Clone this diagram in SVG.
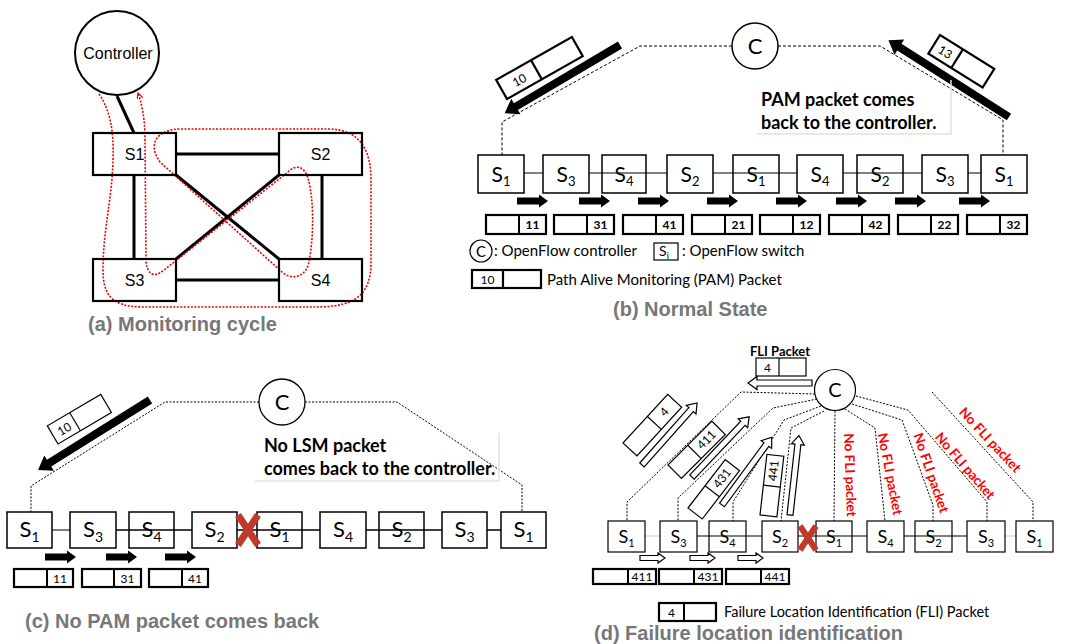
<svg xmlns="http://www.w3.org/2000/svg" width="1066" height="644" viewBox="0 0 1066 644">
<defs>
<style>
.bx{fill:#fff;stroke:#000;stroke-width:1.5}
.bxn{fill:none;stroke:#000;stroke-width:1.5}
.thk{fill:#fff;stroke:#000;stroke-width:2.2}
.thn{fill:#fff;stroke:#000;stroke-width:1.2}
.ln{stroke:#000;fill:none}
.ar{font-family:'Liberation Sans',Arial,sans-serif;font-size:16px;fill:#000}
.cal{font-family:Lato,'Open Sans',sans-serif;fill:#000}
.b{font-weight:bold}
.cap{font-family:'Liberation Sans',Arial,sans-serif;font-size:20px;font-weight:bold;fill:#777}
.dash{fill:none;stroke:#000;stroke-width:1;stroke-dasharray:3,2}
.dot{fill:none;stroke:#000;stroke-width:1;stroke-dasharray:2,1.5}
.blk{fill:#000}
.hol{fill:#fff;stroke:#000;stroke-width:1.2}
.red{fill:#f00;font-family:Lato,'Open Sans',sans-serif;font-weight:bold;font-size:13.5px}
.xm{stroke:#c0392b;stroke-width:7}
.sw{font-family:Lato,'Open Sans',sans-serif;fill:#000;text-anchor:middle}
.pk{font-family:Lato,'Open Sans',sans-serif;fill:#000;text-anchor:middle;font-size:12px}
.faint{fill:none;stroke:#e4e4dc;stroke-width:1.5}
</style>
<marker id="ra" markerWidth="8" markerHeight="8" refX="6" refY="3" orient="auto" markerUnits="userSpaceOnUse">
<path d="M0,0 L6,3 L0,6" fill="none" stroke="#e00" stroke-width="1.2"/>
</marker>
</defs>
<rect width="1066" height="644" fill="#fff"/>

<!-- ===== Panel (a) ===== -->
<g id="a-connectors">
<g class="ln" stroke-width="3">
<line x1="117" y1="96" x2="134" y2="133"/>
<line x1="176" y1="154" x2="279" y2="154"/>
<line x1="176" y1="280" x2="279" y2="280"/>
<line x1="134" y1="175" x2="134" y2="259"/>
<line x1="322" y1="175" x2="322" y2="259"/>
<line x1="176" y1="175" x2="279" y2="259"/>
<line x1="279" y1="175" x2="176" y2="259"/>
</g>
<path d="M99,94 C110,110 114,130 113,160 C112,200 103,230 103,270 C103,295 112,306 140,307 L320,307 C355,306 371,295 371,262 L371,180 C371,150 360,130 330,129 L180,129 C155,130 148,145 160,162 L282,272 C292,281 306,277 309,262 C314,235 314,200 308,178 C304,166 296,164 288,172 L164,270 C152,280 146,272 146,258 L145,140 C145,115 141,102 138,93" fill="none" stroke="#e00" stroke-width="1.6" stroke-dasharray="2,1.5" marker-end="url(#ra)"/>
</g>
<g id="a-controller">
<circle cx="117" cy="53" r="42" fill="#fff" stroke="#000" stroke-width="2"/>
<text x="118" y="59" class="ar" text-anchor="middle">Controller</text>
</g>
<g id="a-s1"><rect x="93" y="133" width="83" height="42" class="thk" style="fill:none"/><text x="134.5" y="160" class="ar" text-anchor="middle">S1</text></g>
<g id="a-s2"><rect x="279" y="133" width="83" height="42" class="thk" style="fill:none"/><text x="320.5" y="160" class="ar" text-anchor="middle">S2</text></g>
<g id="a-s3"><rect x="93" y="259" width="83" height="42" class="thk" style="fill:none"/><text x="134.5" y="286" class="ar" text-anchor="middle">S3</text></g>
<g id="a-s4"><rect x="279" y="259" width="83" height="42" class="thk" style="fill:none"/><text x="320.5" y="286" class="ar" text-anchor="middle">S4</text></g>
<text x="88" y="331" class="cap">(a) Monitoring cycle</text>

<!-- ===== Panel (b) ===== -->
<g id="b-connectors">
<path class="dash" d="M732,46 H640 L502,122 V155"/>
<path class="dash" d="M778,46 H880 L1003,120 V155"/>
<line x1="524" y1="173" x2="981" y2="173" stroke="#000" stroke-width="1"/>
<path class="blk" transform="translate(620,45) rotate(149.4)" d="M0,-4 H121 V-9 L134,0 L121,9 V4 H0 Z"/>
<path class="blk" transform="translate(1009,117) rotate(212.5)" d="M0,-4 H130 V-9 L143,0 L130,9 V4 H0 Z"/>
<g class="blk">
<path transform="translate(517,201)" d="M0,-3.5 H22 V-6.5 L31,0 L22,6.5 V3.5 H0 Z"/>
<path transform="translate(579,201)" d="M0,-3.5 H22 V-6.5 L31,0 L22,6.5 V3.5 H0 Z"/>
<path transform="translate(638,201)" d="M0,-3.5 H22 V-6.5 L31,0 L22,6.5 V3.5 H0 Z"/>
<path transform="translate(707,201)" d="M0,-3.5 H22 V-6.5 L31,0 L22,6.5 V3.5 H0 Z"/>
<path transform="translate(776,201)" d="M0,-3.5 H22 V-6.5 L31,0 L22,6.5 V3.5 H0 Z"/>
<path transform="translate(836,201)" d="M0,-3.5 H22 V-6.5 L31,0 L22,6.5 V3.5 H0 Z"/>
<path transform="translate(895,201)" d="M0,-3.5 H22 V-6.5 L31,0 L22,6.5 V3.5 H0 Z"/>
<path transform="translate(959,201)" d="M0,-3.5 H22 V-6.5 L31,0 L22,6.5 V3.5 H0 Z"/>
</g>
</g>
<g id="b-controller"><circle cx="755" cy="46" r="23" fill="#fff" stroke="#000" stroke-width="1.5"/><text x="755" y="54" class="sw" font-size="22">C</text></g>
<g id="b-pkt10" transform="translate(507,99) rotate(-29.5)"><rect x="0" y="-22" width="87" height="22" class="thk"/><line x1="40" y1="-22" x2="40" y2="0" class="ln" stroke-width="2.2"/><text x="20" y="-6" class="pk" font-size="14">10</text></g>
<g id="b-pkt13" transform="translate(940,35) rotate(32)"><rect x="0" y="0" width="64" height="22" class="thk"/><line x1="27" y1="0" x2="27" y2="22" class="ln" stroke-width="2.2"/><text x="13.5" y="16" class="pk" font-size="14">13</text></g>
<g id="b-note">
<polyline class="faint" points="757,134 951,134 951,80"/>
<text x="761" y="106" class="cal b" font-size="18">PAM packet comes</text>
<text x="761" y="129" class="cal b" font-size="18">back to the controller.</text>
</g>
<g id="b-switches">
<g id="b-sw1"><rect x="478" y="155" width="46" height="38" class="bx"/><text x="501" y="182" class="sw" font-size="21">S<tspan font-size="13" dy="4">1</tspan></text></g>
<g id="b-sw2"><rect x="543" y="155" width="46" height="38" class="bx"/><text x="566" y="182" class="sw" font-size="21">S<tspan font-size="13" dy="4">3</tspan></text></g>
<g id="b-sw3"><rect x="602" y="155" width="44" height="38" class="bxn"/><text x="624" y="182" class="sw" font-size="21">S<tspan font-size="13" dy="4">4</tspan></text></g>
<g id="b-sw4"><rect x="667" y="155" width="46" height="38" class="bx"/><text x="690" y="182" class="sw" font-size="21">S<tspan font-size="13" dy="4">2</tspan></text></g>
<g id="b-sw5"><rect x="733" y="155" width="46" height="38" class="bxn"/><text x="756" y="182" class="sw" font-size="21">S<tspan font-size="13" dy="4">1</tspan></text></g>
<g id="b-sw6"><rect x="797" y="155" width="46" height="38" class="bx"/><text x="820" y="182" class="sw" font-size="21">S<tspan font-size="13" dy="4">4</tspan></text></g>
<g id="b-sw7"><rect x="857" y="155" width="46" height="38" class="bxn"/><text x="880" y="182" class="sw" font-size="21">S<tspan font-size="13" dy="4">2</tspan></text></g>
<g id="b-sw8"><rect x="922" y="155" width="46" height="38" class="bx"/><text x="945" y="182" class="sw" font-size="21">S<tspan font-size="13" dy="4">3</tspan></text></g>
<g id="b-sw9"><rect x="981" y="155" width="46" height="38" class="bx"/><text x="1004" y="182" class="sw" font-size="21">S<tspan font-size="13" dy="4">1</tspan></text></g>
</g>
<g id="b-packets" class="b">
<g><rect x="486" y="215" width="60" height="19" class="thk"/><line x1="519" y1="215" x2="519" y2="234" class="ln" stroke-width="2"/><text x="532.5" y="229" class="pk">11</text></g>
<g><rect x="554" y="215" width="60" height="19" class="thk"/><line x1="587" y1="215" x2="587" y2="234" class="ln" stroke-width="2"/><text x="600.5" y="229" class="pk">31</text></g>
<g><rect x="623" y="215" width="60" height="19" class="thk"/><line x1="656" y1="215" x2="656" y2="234" class="ln" stroke-width="2"/><text x="669.5" y="229" class="pk">41</text></g>
<g><rect x="692" y="215" width="60" height="19" class="thk"/><line x1="725" y1="215" x2="725" y2="234" class="ln" stroke-width="2"/><text x="738.5" y="229" class="pk">21</text></g>
<g><rect x="760" y="215" width="60" height="19" class="thk"/><line x1="793" y1="215" x2="793" y2="234" class="ln" stroke-width="2"/><text x="806.5" y="229" class="pk">12</text></g>
<g><rect x="829" y="215" width="60" height="19" class="thk"/><line x1="862" y1="215" x2="862" y2="234" class="ln" stroke-width="2"/><text x="875.5" y="229" class="pk">42</text></g>
<g><rect x="898" y="215" width="60" height="19" class="thk"/><line x1="931" y1="215" x2="931" y2="234" class="ln" stroke-width="2"/><text x="944.5" y="229" class="pk">22</text></g>
<g><rect x="967" y="215" width="60" height="19" class="thk"/><line x1="1000" y1="215" x2="1000" y2="234" class="ln" stroke-width="2"/><text x="1013.5" y="229" class="pk">32</text></g>
</g>
<g id="b-legend">
<circle cx="481" cy="251" r="11" fill="#fff" stroke="#000" stroke-width="1.2"/><text x="481" y="256.5" class="sw" font-size="15">C</text>
<text x="494" y="256" class="cal" font-size="15">: OpenFlow controller</text>
<rect x="654" y="243" width="24" height="17" fill="#fff" stroke="#000" stroke-width="1.2"/><text x="664" y="256" class="sw" font-size="14">S<tspan font-size="9" dy="3">i</tspan></text>
<text x="682" y="256" class="cal" font-size="15">: OpenFlow switch</text>
<rect x="472" y="270" width="69" height="18" class="thk"/><line x1="503" y1="270" x2="503" y2="288" class="ln" stroke-width="2.2"/><text x="487.5" y="284" class="pk" font-size="13">10</text>
<text x="547" y="285" class="cal" font-size="15">Path Alive Monitoring (PAM) Packet</text>
</g>
<text x="613" y="316" class="cap">(b) Normal State</text>

<!-- ===== Panel (c) ===== -->
<g id="c-connectors">
<path class="dot" d="M259,402 H165 L31,486 V512"/>
<path class="dot" d="M305,402 H397 L522,485 V512"/>
<line x1="52" y1="530" x2="70" y2="530" stroke="#000" stroke-width="1"/>
<line x1="116" y1="530" x2="501" y2="530" stroke="#000" stroke-width="1.6"/>
<path class="blk" transform="translate(150,400) rotate(148)" d="M0,-4 H119 V-9 L132,0 L119,9 V4 H0 Z"/>
<g class="blk">
<path transform="translate(45,557)" d="M0,-3.5 H22 V-6.5 L31,0 L22,6.5 V3.5 H0 Z"/>
<path transform="translate(106,557)" d="M0,-3.5 H22 V-6.5 L31,0 L22,6.5 V3.5 H0 Z"/>
<path transform="translate(165,557)" d="M0,-3.5 H22 V-6.5 L31,0 L22,6.5 V3.5 H0 Z"/>
</g>
</g>
<g id="c-controller"><circle cx="282" cy="402" r="23" fill="#fff" stroke="#000" stroke-width="1.3"/><text x="282" y="410" class="sw" font-size="22">C</text></g>
<g id="c-pkt10" transform="translate(58,444) rotate(-30.5)"><rect x="0" y="-21" width="62" height="21" class="thn"/><line x1="26" y1="-21" x2="26" y2="0" class="ln" stroke-width="1.2"/><text x="13" y="-5.5" class="pk" font-size="13">10</text></g>
<g id="c-note">
<polyline class="faint" points="255,481 499,481 499,433"/>
<text x="264" y="452" class="cal b" font-size="18">No LSM packet</text>
<text x="264" y="475" class="cal b" font-size="18">comes back to the controller.</text>
</g>
<g id="c-switches">
<g id="c-sw1"><rect x="7" y="512" width="45" height="36" class="bx"/><text x="29.5" y="537" class="sw" font-size="22">S<tspan font-size="14" dy="5">1</tspan></text></g>
<g id="c-sw2"><rect x="70" y="512" width="46" height="36" class="bx"/><text x="93" y="537" class="sw" font-size="22">S<tspan font-size="14" dy="5">3</tspan></text></g>
<g id="c-sw3"><rect x="129" y="512" width="45" height="36" class="bxn"/><text x="151.5" y="537" class="sw" font-size="22">S<tspan font-size="14" dy="5">4</tspan></text></g>
<g id="c-sw4"><rect x="192" y="512" width="45" height="36" class="bx"/><text x="214.5" y="537" class="sw" font-size="22">S<tspan font-size="14" dy="5">2</tspan></text></g>
<g id="c-sw5"><rect x="257" y="512" width="45" height="36" class="bxn"/><text x="279.5" y="537" class="sw" font-size="22">S<tspan font-size="14" dy="5">1</tspan></text></g>
<g id="c-sw6"><rect x="320" y="512" width="46" height="36" class="bx"/><text x="343" y="537" class="sw" font-size="22">S<tspan font-size="14" dy="5">4</tspan></text></g>
<g id="c-sw7"><rect x="379" y="512" width="45" height="36" class="bxn"/><text x="401.5" y="537" class="sw" font-size="22">S<tspan font-size="14" dy="5">2</tspan></text></g>
<g id="c-sw8"><rect x="442" y="512" width="45" height="36" class="bx"/><text x="464.5" y="537" class="sw" font-size="22">S<tspan font-size="14" dy="5">3</tspan></text></g>
<g id="c-sw9"><rect x="501" y="512" width="45" height="36" class="bx"/><text x="523.5" y="537" class="sw" font-size="22">S<tspan font-size="14" dy="5">1</tspan></text></g>
</g>
<g id="c-fail"><line x1="238" y1="515" x2="258" y2="545" class="xm"/><line x1="258" y1="515" x2="238" y2="545" class="xm"/></g>
<g id="c-packets">
<g><rect x="14" y="569" width="59" height="18" class="thk"/><line x1="47" y1="569" x2="47" y2="587" class="ln" stroke-width="2"/><text x="60" y="582.5" class="pk">11</text></g>
<g><rect x="82" y="569" width="59" height="18" class="thk"/><line x1="114" y1="569" x2="114" y2="587" class="ln" stroke-width="2"/><text x="127.5" y="582.5" class="pk">31</text></g>
<g><rect x="149" y="569" width="59" height="18" class="thk"/><line x1="182" y1="569" x2="182" y2="587" class="ln" stroke-width="2"/><text x="195" y="582.5" class="pk">41</text></g>
</g>
<text x="25" y="628" class="cap">(c) No PAM packet comes back</text>

<!-- ===== Panel (d) ===== -->
<g id="d-connectors">
<path class="dot" d="M815,394 L741,392 L627,502 V521"/>
<path class="dot" d="M817,399 L773,408 L678,498 V521"/>
<path class="dot" d="M821,406 L784,420 L733,502 V521"/>
<path class="dot" d="M824,411 L791,428 L781,521"/>
<path class="dot" d="M835,411 L834,521"/>
<path class="dot" d="M845,409 L875,428 L885,521"/>
<path class="dot" d="M852,404 L902,420 L933,505 V521"/>
<path class="dot" d="M856,396 L908,410 L987,502 V521"/>
<path class="dot" d="M932,392 L1033,502 V521"/>
<line x1="645" y1="536" x2="660" y2="536" stroke="#ccc" stroke-width="1"/>
<line x1="697" y1="536" x2="967" y2="536" stroke="#000" stroke-width="1.2"/>
<line x1="1005" y1="536" x2="1016" y2="536" stroke="#ccc" stroke-width="1"/>
<path class="hol" transform="translate(812,383) rotate(180)" d="M0,-3 H55 V-6.5 L64,0 L55,6.5 V3 H0 Z"/>
<path class="hol" transform="translate(642,465) rotate(-48.4)" d="M0,-3 H74 V-6.5 L83,0 L74,6.5 V3 H0 Z"/>
<path class="hol" transform="translate(692,477) rotate(-46.5)" d="M0,-3 H74 V-6.5 L83,0 L74,6.5 V3 H0 Z"/>
<path class="hol" transform="translate(722,505) rotate(-53.7)" d="M0,-3 H75 V-6.5 L84,0 L75,6.5 V3 H0 Z"/>
<path class="hol" transform="translate(790,515) rotate(-83.6)" d="M0,-3 H71 V-6.5 L80,0 L71,6.5 V3 H0 Z"/>
<path class="hol" transform="translate(640,558)" d="M0,-2.5 H18 V-5 L25,0 L18,5 V2.5 H0 Z"/>
<path class="hol" transform="translate(690,558)" d="M0,-2.5 H18 V-5 L25,0 L18,5 V2.5 H0 Z"/>
<path class="hol" transform="translate(738,558)" d="M0,-2.5 H18 V-5 L25,0 L18,5 V2.5 H0 Z"/>
</g>
<g id="d-controller"><circle cx="835" cy="390" r="20.5" fill="#fff" stroke="#000" stroke-width="1.2"/><text x="835" y="397" class="sw" font-size="20">C</text></g>
<g id="d-fli">
<text x="780" y="356" class="cal b" font-size="13" text-anchor="middle">FLI Packet</text>
<rect x="756" y="358" width="50" height="18" class="thn"/><line x1="779" y1="358" x2="779" y2="376" class="ln" stroke-width="1.2"/><text x="767.5" y="371.5" class="pk" font-size="11">4</text>
</g>
<g id="d-pktA" transform="translate(623,443) rotate(-47.4)"><rect width="66" height="19" class="thn"/><line x1="36" y1="0" x2="36" y2="19" class="ln" stroke-width="1.2"/><text x="51" y="13.5" class="pk" font-size="11">4</text></g>
<g id="d-pktB" transform="translate(668,465) rotate(-45)"><rect width="62" height="19" class="thn"/><line x1="28" y1="0" x2="28" y2="19" class="ln" stroke-width="1.2"/><text x="45" y="13.5" class="pk" font-size="11">411</text></g>
<g id="d-pktC" transform="translate(688,508) rotate(-52.4)"><rect width="61" height="18" class="thn"/><line x1="28" y1="0" x2="28" y2="18" class="ln" stroke-width="1.2"/><text x="44.5" y="13" class="pk" font-size="11">431</text></g>
<g id="d-pktD" transform="translate(760,515) rotate(-83.5)"><rect width="61" height="17" class="thn"/><line x1="30" y1="0" x2="30" y2="17" class="ln" stroke-width="1.2"/><text x="45.5" y="12.5" class="pk" font-size="11">441</text></g>
<g id="d-nofli">
<text class="red" text-anchor="middle" transform="translate(850,475) rotate(88)" y="4.5">No FLI packet</text>
<text class="red" text-anchor="middle" transform="translate(890,474) rotate(79)" y="4.5">No FLI packet</text>
<text class="red" text-anchor="middle" transform="translate(931,473) rotate(71)" y="4.5">No FLI packet</text>
<text class="red" text-anchor="middle" transform="translate(965,466) rotate(49)" y="4.5">No FLI packet</text>
<text class="red" text-anchor="middle" transform="translate(990,440) rotate(47)" y="4.5">No FLI packet</text>
</g>
<g id="d-switches">
<g id="d-sw1"><rect x="608" y="521" width="37" height="31" class="bx" style="stroke-width:1.2"/><text x="626.5" y="543" class="sw" font-size="18">S<tspan font-size="11" dy="4">1</tspan></text></g>
<g id="d-sw2"><rect x="660" y="521" width="37" height="31" class="bx" style="stroke-width:1.2"/><text x="678.5" y="543" class="sw" font-size="18">S<tspan font-size="11" dy="4">3</tspan></text></g>
<g id="d-sw3"><rect x="709" y="521" width="37" height="31" class="bxn" style="stroke-width:1.2"/><text x="727.5" y="543" class="sw" font-size="18">S<tspan font-size="11" dy="4">4</tspan></text></g>
<g id="d-sw4"><rect x="762" y="521" width="36" height="31" class="bx" style="stroke-width:1.2"/><text x="780" y="543" class="sw" font-size="18">S<tspan font-size="11" dy="4">2</tspan></text></g>
<g id="d-sw5"><rect x="816" y="521" width="36" height="31" class="bxn" style="stroke-width:1.2"/><text x="834" y="543" class="sw" font-size="18">S<tspan font-size="11" dy="4">1</tspan></text></g>
<g id="d-sw6"><rect x="867" y="521" width="37" height="31" class="bx" style="stroke-width:1.2"/><text x="885.5" y="543" class="sw" font-size="18">S<tspan font-size="11" dy="4">4</tspan></text></g>
<g id="d-sw7"><rect x="915" y="521" width="37" height="31" class="bxn" style="stroke-width:1.2"/><text x="933.5" y="543" class="sw" font-size="18">S<tspan font-size="11" dy="4">2</tspan></text></g>
<g id="d-sw8"><rect x="967" y="521" width="38" height="31" class="bx" style="stroke-width:1.2"/><text x="986" y="543" class="sw" font-size="18">S<tspan font-size="11" dy="4">3</tspan></text></g>
<g id="d-sw9"><rect x="1016" y="521" width="37" height="31" class="bx" style="stroke-width:1.2"/><text x="1034.5" y="543" class="sw" font-size="18">S<tspan font-size="11" dy="4">1</tspan></text></g>
</g>
<g id="d-fail"><line x1="800" y1="526" x2="816" y2="550" class="xm" style="stroke-width:6"/><line x1="816" y1="526" x2="800" y2="550" class="xm" style="stroke-width:6"/></g>
<g id="d-packets">
<g><rect x="593" y="569" width="63" height="15" class="thk"/><line x1="628" y1="569" x2="628" y2="584" class="ln" stroke-width="2"/><text x="642" y="581" class="pk" font-size="11">411</text></g>
<g><rect x="659" y="569" width="63" height="15" class="thk"/><line x1="694" y1="569" x2="694" y2="584" class="ln" stroke-width="2"/><text x="708" y="581" class="pk" font-size="11">431</text></g>
<g><rect x="726" y="569" width="63" height="15" class="thk"/><line x1="761" y1="569" x2="761" y2="584" class="ln" stroke-width="2"/><text x="775" y="581" class="pk" font-size="11" fill="#555">441</text></g>
</g>
<g id="d-legend">
<rect x="659" y="603" width="57" height="18" class="thk"/><line x1="684" y1="603" x2="684" y2="621" class="ln" stroke-width="2"/><text x="671.5" y="616.5" class="pk" font-size="12">4</text>
<text x="724" y="617" class="cal" font-size="14.5">Failure Location Identification (FLI) Packet</text>
</g>
<text x="594" y="640" class="cap">(d) Failure location identification</text>
</svg>
